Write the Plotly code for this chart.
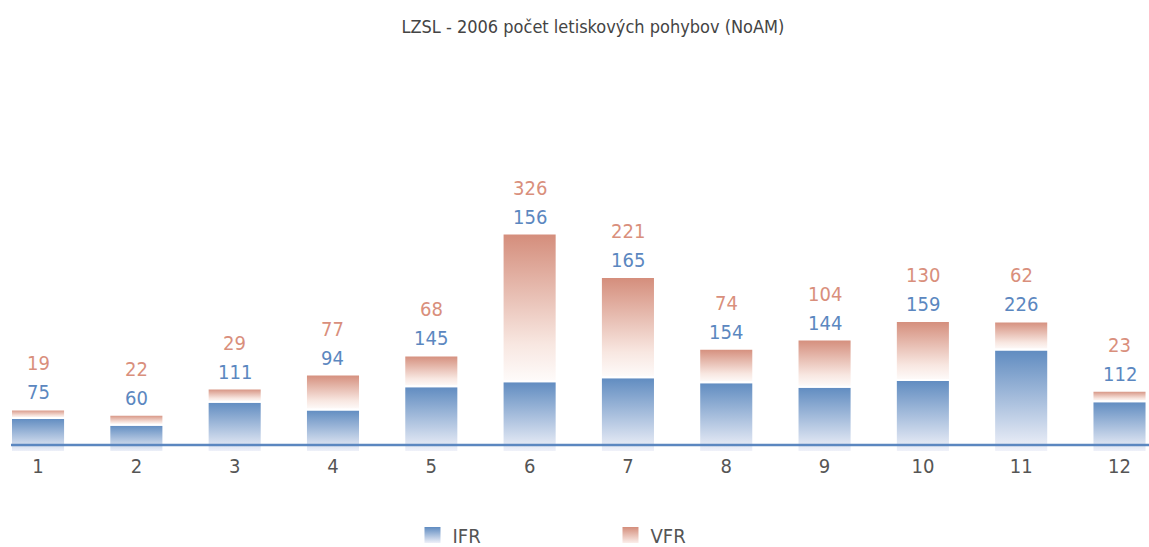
import plotly.graph_objects as go

months = list(range(1, 13))
month_labels = [str(m) for m in months]
ifr = [75, 60, 111, 94, 145, 156, 165, 154, 144, 159, 226, 112]
vfr = [19, 22, 29, 77, 68, 326, 221, 74, 104, 130, 62, 23]
series_names = ["IFR", "VFR"]

BAR_W = 0.55
X_RANGE = [0.613, 12.30]
Y_RANGE = [0, 865]
FONT = "DejaVu Sans Condensed, DejaVu Sans, sans-serif"
BLUE = "#5b87c0"
SALMON = "#d98f7c"
IFR_SCALE = [[0, "#f2f3fa"], [1, "#5f8bc0"]]
VFR_SCALE = [[0, "#fefbfa"], [0.25, "#f8e7e1"], [1, "#d48d7b"]]

fig = go.Figure()
for i, (m, a, b) in enumerate(zip(months, ifr, vfr)):
    x0, x1 = m - BAR_W / 2, m + BAR_W / 2
    fig.add_trace(go.Scatter(
        x=[x0, x1, x1, x0, x0], y=[0, 0, a, a, 0],
        fill="toself", mode="lines",
        line=dict(color="white", width=2),
        fillgradient=dict(type="vertical", colorscale=IFR_SCALE),
        name=series_names[0], legendgroup="ifr", showlegend=False,
        hoverinfo="skip",
    ))
    fig.add_trace(go.Scatter(
        x=[x0, x1, x1, x0, x0], y=[a, a, a + b, a + b, a],
        fill="toself", mode="lines",
        line=dict(color="white", width=2),
        fillgradient=dict(type="vertical", colorscale=VFR_SCALE),
        name=series_names[1], legendgroup="vfr", showlegend=False,
        hoverinfo="skip",
    ))
    fig.add_annotation(x=m, y=a + b, text=str(b), showarrow=False,
                       yanchor="middle", yshift=46,
                       font=dict(family=FONT, size=20, color=SALMON))
    fig.add_annotation(x=m, y=a + b, text=str(a), showarrow=False,
                       yanchor="middle", yshift=17,
                       font=dict(family=FONT, size=20, color=BLUE))

# legend entries (square gradient swatches)
fig.add_trace(go.Scatter(
    x=[None], y=[None], mode="markers", name=series_names[0], legendgroup="ifr",
    marker=dict(symbol="square", size=16, color="#5f8bc0",
                gradient=dict(type="vertical", color="#eef0f8")),
))
fig.add_trace(go.Scatter(
    x=[None], y=[None], mode="markers", name=series_names[1], legendgroup="vfr",
    marker=dict(symbol="square", size=16, color="#d48d7b",
                gradient=dict(type="vertical", color="#fbeeea")),
))

# baseline axis line
fig.add_shape(type="line", xref="x", yref="y",
              x0=months[0] - BAR_W / 2, x1=X_RANGE[1],
              ysizemode="pixel", yanchor=0, y0=7, y1=7,
              line=dict(color=BLUE, width=2.5))

fig.update_layout(
    width=1149, height=547,
    margin=dict(l=0, r=0, t=60, b=95),
    paper_bgcolor="white", plot_bgcolor="white",
    title=dict(text="LZSL - 2006 počet letiskových pohybov (NoAM)",
               x=0.516, xanchor="center", y=1 - 27 / 547, yanchor="middle",
               font=dict(family=FONT, size=18, color="#444444")),
    xaxis=dict(range=X_RANGE, tickvals=months, ticktext=month_labels,
               showgrid=False, zeroline=False, showline=False, ticks="",
               tickfont=dict(family=FONT, size=20, color="#555555")),
    yaxis=dict(range=Y_RANGE, visible=False, showgrid=False, zeroline=False),
    legend=dict(orientation="h", x=0.359, xanchor="left",
                yref="container", y=1 - 535 / 547, yanchor="middle",
                entrywidth=153, entrywidthmode="pixels", itemsizing="trace",
                font=dict(family=FONT, size=20, color="#555555")),
    showlegend=True,
)

fig.write_html("out.html", config={"displayModeBar": False},
               post_script="document.body.style.margin='0';")
